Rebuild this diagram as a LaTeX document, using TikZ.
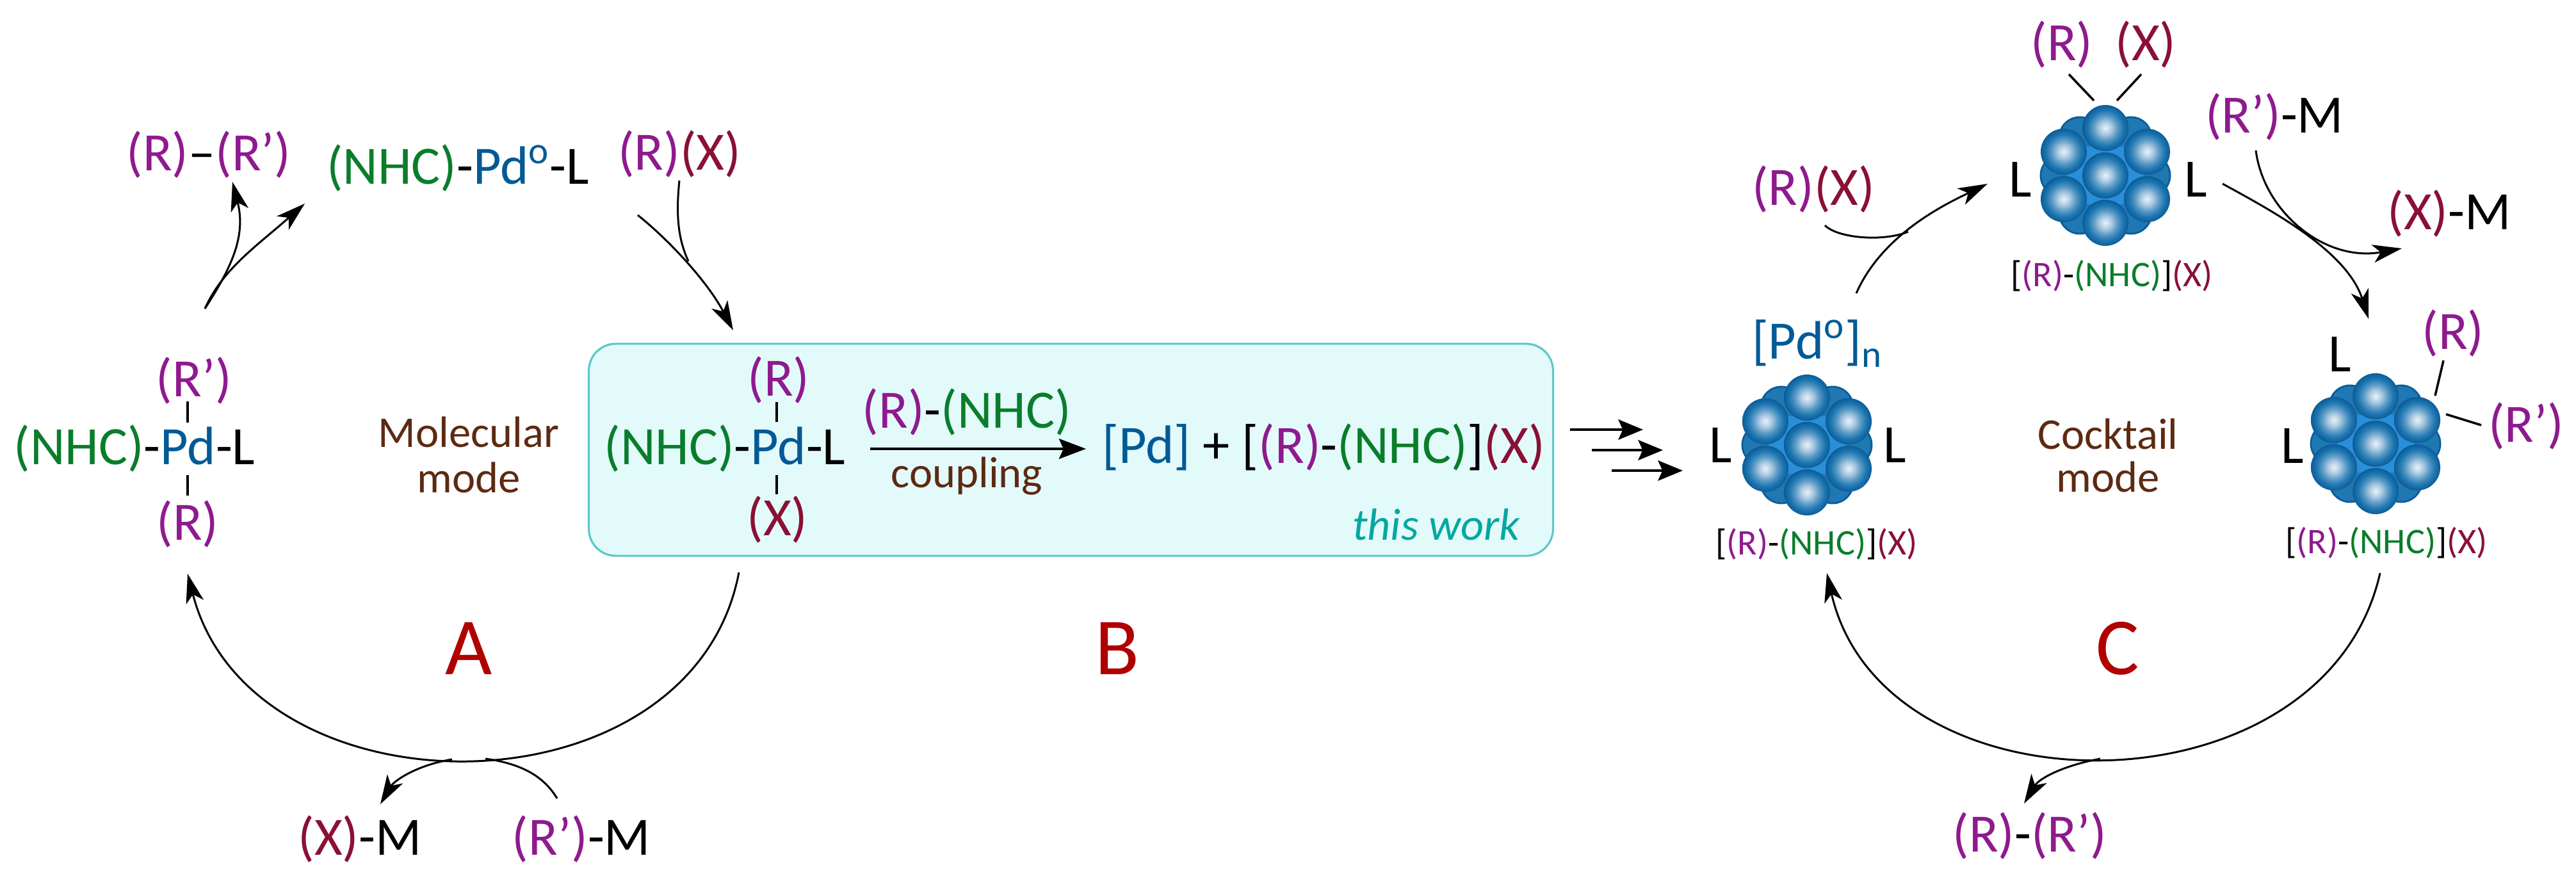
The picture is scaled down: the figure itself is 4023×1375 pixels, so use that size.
\documentclass[tikz,border=0pt]{standalone}
\usepackage{fontspec}
\setmainfont{Carlito}
\usetikzlibrary{arrows.meta}
\definecolor{cR}{HTML}{8E1A8E}
\definecolor{cX}{HTML}{8A1035}
\definecolor{cN}{HTML}{0A7D2A}
\definecolor{cP}{HTML}{005A96}
\definecolor{cB}{HTML}{5C2A12}
\definecolor{cA}{HTML}{B00000}
\definecolor{cT}{HTML}{00A8A0}
\definecolor{boxfill}{HTML}{E3FAFB}
\definecolor{boxline}{HTML}{5CC8C8}
\definecolor{ballA}{HTML}{EAF2F9}
\definecolor{ballB}{HTML}{A8C8E0}
\definecolor{ballC}{HTML}{5C9AC6}
\definecolor{ballD}{HTML}{1F78B2}
\definecolor{ballE}{HTML}{0B5C98}
\definecolor{ballG}{HTML}{2A8FD8}
\pgfdeclareradialshading{pdball}{\pgfpoint{0bp}{0bp}}{color(0bp)=(ballA); color(7bp)=(ballB); color(13bp)=(ballC); color(19bp)=(ballD); color(25bp)=(ballE); color(50bp)=(ballE)}
\newcommand{\tR}{\textcolor{cR}{(R)}}
\newcommand{\tRp}{\textcolor{cR}{(R’)}}
\newcommand{\tX}{\textcolor{cX}{(X)}}
\newcommand{\tN}{\textcolor{cN}{(NHC)}}
\newcommand{\tPd}{\textcolor{cP}{Pd}}
\newcommand{\tPdz}{\textcolor{cP}{Pd\textsuperscript{o}}}
\newcommand{\salt}{[\tR-\tN]\tX}
\tikzset{
  x=0.01cm,y=-0.01cm,
  lab/.style={inner sep=0pt,anchor=base,font=\fontsize{24}{26}\selectfont},
  small/.style={lab,font=\fontsize{16}{18}\selectfont},
  modelab/.style={lab,text=cB,font=\fontsize{19.5}{22}\selectfont},
  letter/.style={lab,text=cA,font=\fontsize{36}{38}\selectfont},
  big/.style={lab,font=\fontsize{24}{26}\selectfont},
  conn/.style={line width=0.85pt,-{Stealth[length=13pt,width=8pt,inset=3.5pt]}},
  plain/.style={line width=0.85pt},
  bond/.style={line width=1pt},
  ballfg/.style={shading=pdball},
  ballbg/.style={fill=ballD,draw=ballE,line width=0.8pt},
  pics/pdcluster/.style={code={
    \foreach \a/\b in {-40/-59,40/-59,-40/59,40/59,-69/0,69/0}
      \draw[ballbg] (\a,\b) circle[radius=0.32cm];
    \fill[ballG] (-45,-45) -- (45,-45) -- (60,0) -- (45,45) -- (-45,45) -- (-60,0) -- cycle;
    \foreach \a/\b in {0/-74,0/0,0/74,-65/-37,65/-37,-65/37,65/37}
      \shade[ballfg] (\a,\b) circle[radius=0.36cm];
  }}
}
\begin{document}
\begin{tikzpicture}
\useasboundingbox (0,0) rectangle (4023,1375);
% box
\node (bbox) [draw=boxline,line width=0.9pt,fill=boxfill,rounded corners=0.42cm,minimum width=15.05cm,minimum height=3.31cm,inner sep=0pt] at (1672.5,702.5) {};
% ---- left part ----
\node (RRa) [lab] at (326,266) {\tR\textendash\tRp};
\node (Pd0) [lab] at (715,287) {\tN-\tPdz-L};
\node (RXa) [lab] at (1061,265) {\tR\tX};
\node (PdL) [lab] at (210,725) {\tN-\tPd-L};
\node (Rpa) [lab] at (303,619) {\tRp};
\node (Rbl) [lab] at (293,843) {\tR};
\node (Moa) [modelab] at (732,698) {Molecular};
\node (Mob) [modelab] at (732,769) {mode};
\node (LA) [letter] at (732,1053) {A};
\node (XM) [lab] at (562,1335) {\tX-M};
\node (RpM) [lab] at (908,1335) {\tRp-M};
\coordinate (b1) at (293,627); \coordinate (b2) at (293,660);
\coordinate (b3) at (293,742); \coordinate (b4) at (293,774);
\draw[bond] (b1) -- (b2); \draw[bond] (b3) -- (b4);
% ---- box content ----
\node (PdB) [lab] at (1132,725) {\tN-\tPd-L};
\node (Rb) [lab] at (1216,618) {\tR};
\node (Xb) [lab] at (1214,836) {\tX};
\coordinate (b5) at (1213,628); \coordinate (b6) at (1213,659);
\coordinate (b7) at (1213,742); \coordinate (b8) at (1213,772);
\draw[bond] (b5) -- (b6); \draw[bond] (b7) -- (b8);
\node (RN) [lab] at (1510,668) {\tR-\tN};
\node (cpl) [modelab] at (1510,761) {coupling};
\coordinate (ca) at (1359,701); \coordinate (cb) at (1696,701);
\draw[line width=1pt,-{Stealth[length=12pt,width=9pt,inset=2pt]}] (ca) -- (cb);
\node (prod) [lab] at (2067,723) {\textcolor{cP}{[Pd]} + \salt};
\node (tw) [lab,text=cT,font=\fontsize{20}{22}\selectfont\itshape] at (2243,843) {this work};
\node (LB) [letter] at (1745,1053) {B};
% ---- right part ----
\pic (c1) at (3288,274) {pdcluster};
\pic (c2) at (2822,695) {pdcluster};
\pic (c3) at (3710,693) {pdcluster};
\node (Rt) [lab] at (3220,94) {\tR};
\node (Xt) [lab] at (3351,94) {\tX};
\coordinate (t1) at (3231,116); \coordinate (t2) at (3270,157);
\coordinate (t3) at (3344,116); \coordinate (t4) at (3306,157);
\draw[bond] (t1) -- (t2); \draw[bond] (t3) -- (t4);
\node (La) [big] at (3155,307) {L};
\node (Lb) [big] at (3429,307) {L};
\node (Lc) [big] at (2687,722) {L};
\node (Ld) [big] at (2959,722) {L};
\node (Le) [big] at (3580,723) {L};
\node (Lf) [big] at (3654,580) {L};
\node (RpMb) [lab] at (3552,207) {\tRp-M};
\node (RXb) [lab] at (2832,320) {\tR\tX};
\node (XMb) [lab] at (3825,358) {\tX-M};
\node (s1) [small] at (3298,447) {\salt};
\node (s2) [small] at (2837,866) {\salt};
\node (s3) [small] at (3727,864) {\salt};
\node (Pdn) [lab,text=cP] at (2838,560) {[Pd\textsuperscript{o}]\textsubscript{n}};
\node (Rr) [lab] at (3831,545) {\tR};
\node (Rpr) [lab] at (3945,690) {\tRp};
\coordinate (t5) at (3816,563); \coordinate (t6) at (3803,618);
\coordinate (t7) at (3820,647); \coordinate (t8) at (3875,664);
\draw[bond] (t5) -- (t6); \draw[bond] (t7) -- (t8);
\node (Coa) [modelab] at (3292,701) {Cocktail};
\node (Cob) [modelab] at (3292,768) {mode};
\node (LC) [letter] at (3307,1053) {C};
\node (RRb) [lab] at (3170,1330) {\tR-\tRp};
% ---- connectors: left cycle ----
\coordinate (a0) at (320,482); \coordinate (a1) at (363,284); \coordinate (a2) at (476,318);
\draw[conn] (a0) .. controls (360,420) and (385,370) .. (a1);
\draw[conn] (a0) .. controls (348,420) and (400,385) .. (a2);
\coordinate (a3) at (996,336); \coordinate (a4) at (1145,516);
\coordinate (a5) at (1061,282); \coordinate (a6) at (1075,408);
\draw[conn] (a3) .. controls (1045,375) and (1105,440) .. (a4);
\draw[plain] (a5) .. controls (1055,340) and (1060,375) .. (a6);
\coordinate (a7) at (1154,894); \coordinate (a8) at (293,896);
\draw[conn] (a7) .. controls (1080,1282) and (392,1282) .. (a8);
\coordinate (a9) at (706,1186); \coordinate (a10) at (594,1256);
\coordinate (a11) at (758,1185); \coordinate (a12) at (870,1247);
\draw[conn] (a9) .. controls (650,1195) and (615,1220) .. (a10);
\draw[plain] (a11) .. controls (810,1192) and (848,1210) .. (a12);
% ---- triple arrows ----
\foreach \n/\p/\q/\r in {1/2452/2566/671,2/2486/2597/703,3/2517/2628/735}{
  \coordinate (ta\n) at (\p,\r); \coordinate (tb\n) at (\q,\r);
  \draw[line width=1pt,-{Stealth[length=11pt,width=9pt,inset=2pt]}] (ta\n) -- (tb\n);
}
% ---- connectors: right cycle ----
\coordinate (d0) at (2899,458); \coordinate (d1) at (3104,287);
\draw[conn] (d0) .. controls (2940,365) and (3040,318) .. (d1);
\coordinate (d2) at (2850,352); \coordinate (d3) at (2980,362);
\draw[plain] (d2) .. controls (2870,372) and (2940,378) .. (d3);
\coordinate (d4) at (3471,287); \coordinate (d5) at (3699,498);
\draw[conn] (d4) .. controls (3540,325) and (3665,390) .. (d5);
\coordinate (d6) at (3523,235); \coordinate (d7) at (3751,388);
\draw[conn] (d6) .. controls (3535,330) and (3630,410) .. (d7);
\coordinate (d8) at (3717,895); \coordinate (d9) at (2853,895);
\draw[conn] (d8) .. controls (3630,1280) and (2940,1280) .. (d9);
\coordinate (d10) at (3280,1185); \coordinate (d11) at (3161,1255);
\draw[conn] (d10) .. controls (3225,1195) and (3185,1215) .. (d11);
\end{tikzpicture}
\end{document}
